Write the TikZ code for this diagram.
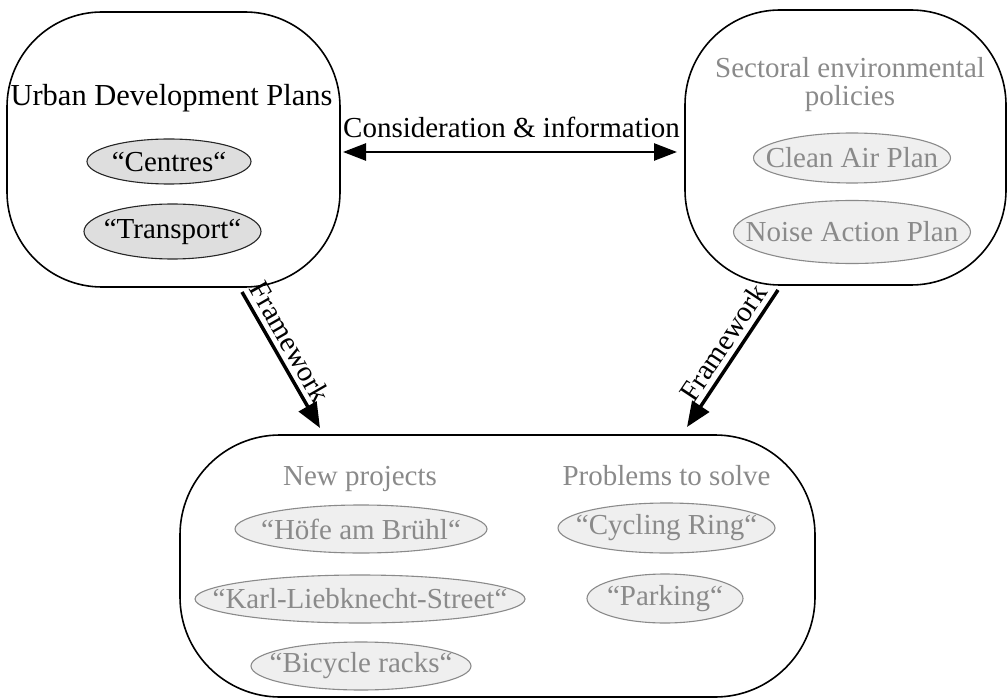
\documentclass[tikz,border=0pt]{standalone}
\usepackage{fontspec}
\setmainfont{Liberation Serif}
\usetikzlibrary{shapes.geometric,arrows.meta}
\definecolor{txtgrey}{HTML}{8A8A8A}
\definecolor{fillgrey}{HTML}{EFEFEF}
\definecolor{filldark}{HTML}{DEDEDE}
\begin{document}
\begin{tikzpicture}[x=1pt,y=-1pt,
  every node/.style={font=\fontsize{29}{31}\selectfont, inner sep=0pt},
  bigbox/.style={draw=black, line width=1.6pt, rounded corners=95pt},
  darkell/.style={ellipse, draw=black!85, line width=1.1pt, fill=filldark},
  lightell/.style={ellipse, draw=txtgrey, line width=1.1pt, fill=fillgrey},
  greytxt/.style={text=txtgrey},
  bigarrow/.style={line width=3.5pt, -{Triangle[length=25pt,width=20pt]}},
  dblarrow/.style={line width=2.5pt, {Triangle[length=23pt,width=17pt]}-{Triangle[length=23pt,width=17pt]}}
]
\useasboundingbox (0,0) rectangle (1008,700);

% boxes
\node[bigbox, minimum width=333pt, minimum height=275pt] (ud) at (173.5,149.5) {};
\node[bigbox, minimum width=321pt, minimum height=275pt] (sep) at (845.5,147.5) {};
\node[bigbox, rounded corners=100pt, minimum width=635pt, minimum height=262pt] (proj) at (497.5,566) {};

% left box
\node[anchor=base, font=\fontsize{30.5}{32}\selectfont] (udt) at (171.5,106) {Urban Development Plans};
\node[darkell, minimum width=164pt, minimum height=45pt, label={center:“Centres“}] (centres) at (169,161.5) {};
\node[darkell, minimum width=177pt, minimum height=55pt, label={center:“Transport“}] (transport) at (172.5,231.5) {};

% right box
\node[greytxt, anchor=base] (sept1) at (850,78) {Sectoral environmental};
\node[greytxt, anchor=base] (sept2) at (850,106) {policies};
\node[lightell, minimum width=197pt, minimum height=50pt, label={[greytxt]center:Clean Air Plan}] (cap) at (852,158) {};
\node[lightell, minimum width=237pt, minimum height=63pt, label={[greytxt]center:Noise Action Plan}] (nap) at (852,232) {};

% bottom box
\node[greytxt, anchor=base] (np) at (360,485) {New projects};
\node[greytxt, anchor=base] (pts) at (666.5,485) {Problems to solve};
\node[lightell, minimum width=252pt, minimum height=48pt, label={[greytxt]center:“Höfe am Brühl“}] (hoefe) at (361,529) {};
\node[lightell, minimum width=330pt, minimum height=48pt, label={[greytxt]center:“Karl-Liebknecht-Street“}] (karl) at (360,599) {};
\node[lightell, minimum width=220pt, minimum height=48pt, label={[greytxt]center:“Bicycle racks“}] (bike) at (361,666) {};
\node[lightell, minimum width=217pt, minimum height=50pt, label={[greytxt]center:“Cycling Ring“}] (cring) at (666.5,528) {};
\node[lightell, minimum width=156pt, minimum height=49pt, label={[greytxt]center:“Parking“}] (park) at (665,598.5) {};

% connectors
\coordinate (dl) at (343,152);
\coordinate (dr) at (677,152);
\draw[dblarrow] (dl) -- (dr);
\node[anchor=base] (cons) at (511.5,138) {Consideration \& information};

\coordinate (f1s) at (242,292);
\coordinate (f1e) at (320,428);
\draw[bigarrow] (f1s) -- node[sloped, above=5pt, pos=0.43] (fw1) {Framework} (f1e);

\coordinate (f2s) at (778,290);
\coordinate (f2e) at (687,427);
\draw[bigarrow] (f2s) -- node[sloped, above=5pt, pos=0.45] (fw2) {Framework} (f2e);
\end{tikzpicture}
\end{document}
